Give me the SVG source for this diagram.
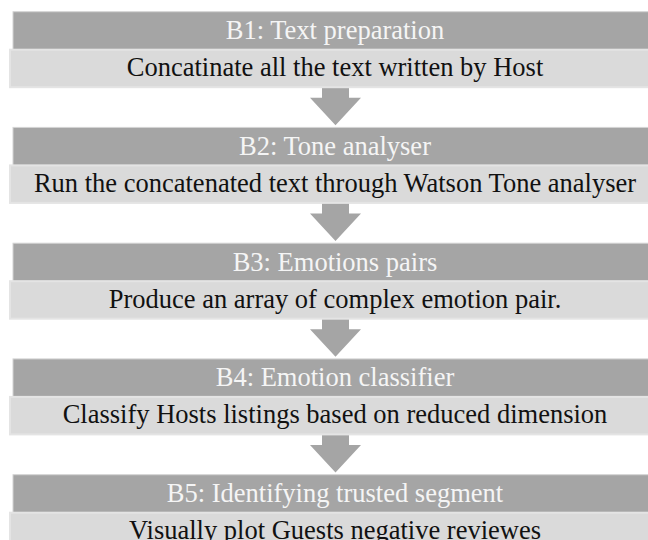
<svg xmlns="http://www.w3.org/2000/svg" width="648" height="540" viewBox="0 0 648 540">
<defs>
<style>
.hd{fill:#a5a5a5;stroke:#d4d4d4;stroke-width:1}
.bd{fill:#dadada;stroke:#e4e4e4;stroke-width:2}
.ar{fill:#a5a5a5}
.ht{font-family:"Liberation Serif","Times New Roman",serif;font-size:26.5px;fill:#f5f5f5;text-anchor:middle}
.bt{font-family:"Liberation Serif","Times New Roman",serif;font-size:26.5px;fill:#111111;text-anchor:middle}
</style>
<path id="arrow" class="ar" d="M322,0 H349 V10.5 H361 L335.5,38 L310,10.5 H322 Z"/>
</defs>
<rect width="648" height="540" fill="#ffffff"/>
<g id="connectors">
<use href="#arrow" y="87.2"/>
<use href="#arrow" y="202.9"/>
<use href="#arrow" y="318.7"/>
<use href="#arrow" y="434.4"/>
</g>
<g id="B1">
<rect class="hd" x="13" y="11.7" width="640" height="38"/>
<rect class="bd" x="10" y="49.7" width="645" height="37.5"/>
<text class="ht" x="335" y="39.2">B1: Text preparation</text>
<text class="bt" x="335" y="76.2">Concatinate all the text written by Host</text>
</g>
<g id="B2">
<rect class="hd" x="13" y="127.4" width="640" height="38"/>
<rect class="bd" x="10" y="165.4" width="645" height="37.5"/>
<text class="ht" x="335" y="154.9">B2: Tone analyser</text>
<text class="bt" x="335" y="191.9">Run the concatenated text through Watson Tone analyser</text>
</g>
<g id="B3">
<rect class="hd" x="13" y="243.2" width="640" height="38"/>
<rect class="bd" x="10" y="281.2" width="645" height="37.5"/>
<text class="ht" x="335" y="270.7">B3: Emotions pairs</text>
<text class="bt" x="335" y="307.7">Produce an array of complex emotion pair.</text>
</g>
<g id="B4">
<rect class="hd" x="13" y="358.9" width="640" height="38"/>
<rect class="bd" x="10" y="396.9" width="645" height="37.5"/>
<text class="ht" x="335" y="386.4">B4: Emotion classifier</text>
<text class="bt" x="335" y="423.4">Classify Hosts listings based on reduced dimension</text>
</g>
<g id="B5">
<rect class="hd" x="13" y="474.7" width="640" height="38"/>
<rect class="bd" x="10" y="512.7" width="645" height="37.5"/>
<text class="ht" x="335" y="502.2">B5: Identifying trusted segment</text>
<text class="bt" x="335" y="538.8">Visually plot Guests negative reviewes</text>
</g>
</svg>
